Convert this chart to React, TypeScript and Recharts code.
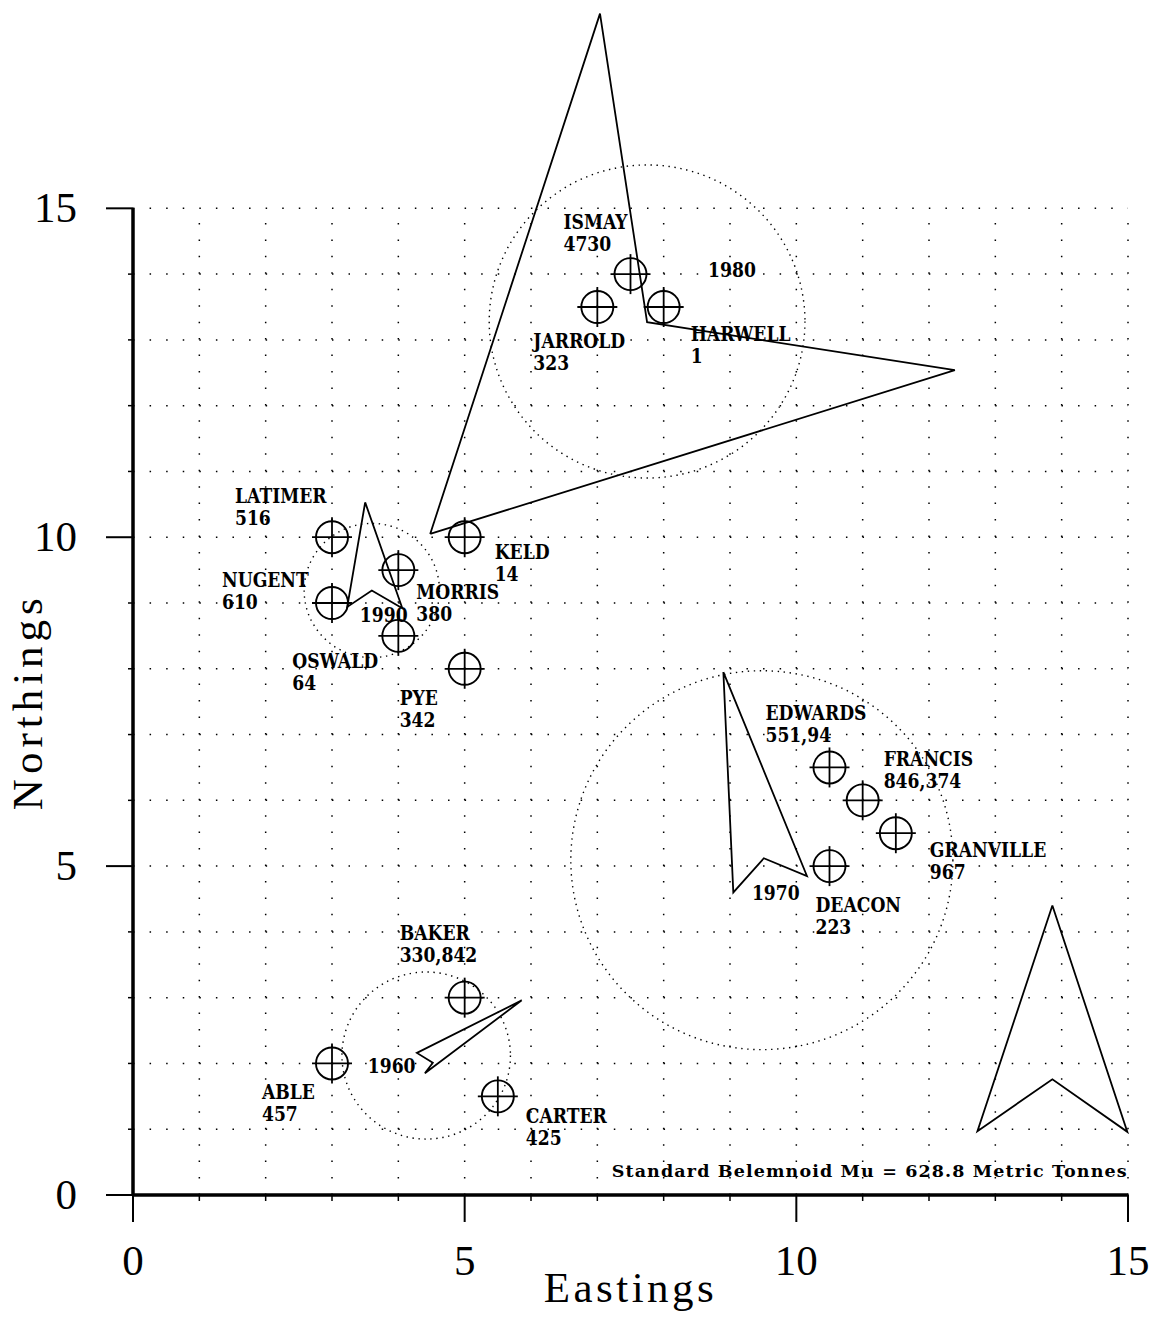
import React from "react";
import { ReferenceArea, ReferenceLine, Scatter, ScatterChart, XAxis, YAxis } from "recharts";

// wells
const wellNames = ["LATIMER", "NUGENT", "MORRIS", "OSWALD", "KELD", "PYE", "ISMAY", "JARROLD", "HARWELL", "EDWARDS", "FRANCIS", "GRANVILLE", "DEACON", "BAKER", "ABLE", "CARTER"];
const wellEastings = [3, 3, 4, 4, 5, 5, 7.5, 7, 8, 10.5, 11, 11.5, 10.5, 5, 3, 5.5];
const wellNorthings = [10, 9, 9.5, 8.5, 10, 8, 14, 13.5, 13.5, 6.5, 6, 5.5, 5, 3, 2, 1.5];
const wellTonnages = ["516", "610", "380", "64", "14", "342", "4730", "323", "1", "551,94", "846,374", "967", "223", "330,842", "457", "425"];

// decade clusters: circle centre (= arrow notch) and radius
const decades = ["1960", "1970", "1980", "1990"];
const circleEastings = [4.42, 9.48, 7.75, 3.6];
const circleNorthings = [2.12, 5.09, 13.28, 9.19];
const circleRadii = [1.27, 2.88, 2.38, 1.02];
const decadeLabelEastings = [3.54, 9.33, 8.67, 3.42];
const decadeLabelNorthings = [1.85, 4.48, 13.95, 8.71];

// arrow outlines: tip, base, notch, base
const arrow1960 = [[5.86, 2.96], [4.28, 2.16], [4.52, 2.01], [4.4, 1.85]];
const arrow1970 = [[8.9, 7.95], [9.05, 4.6], [9.51, 5.12], [10.16, 4.85]];
const arrow1980 = [[4.48, 10.05], [7.04, 17.96], [7.75, 13.27], [12.39, 12.54]];
const arrow1990 = [[3.5, 10.53], [3.23, 8.94], [3.6, 9.19], [4.06, 8.92]];
const northArrow = [[13.86, 4.4], [12.73, 0.97], [13.86, 1.76], [14.99, 0.96]];

const unitTicks = [0, 1, 2, 3, 4, 5, 6, 7, 8, 9, 10, 11, 12, 13, 14, 15];
const gridTicks = [1, 2, 3, 4, 5, 6, 7, 8, 9, 10, 11, 12, 13, 14, 15];

const footnote = "Standard Belemnoid Mu = 628.8 Metric Tonnes";
const footnoteEasting = 14.98;
const footnoteNorthing = 0.27;

// label placement (pixels from the well symbol)
const labelOffsets: { [name: string]: [number, number] } = {
  LATIMER: [-97, -34],
  NUGENT: [-110, -16],
  MORRIS: [18, 29],
  OSWALD: [-106, 32],
  KELD: [30, 22],
  PYE: [-65, 36],
  ISMAY: [-67, -45],
  JARROLD: [-64, 41],
  HARWELL: [27, 34],
  EDWARDS: [-64, -47],
  FRANCIS: [21, -34],
  GRANVILLE: [34, 24],
  DEACON: [-14, 46],
  BAKER: [-65, -58],
  ABLE: [-70, 36],
  CARTER: [28, 27],
};

const wells = wellNames.map((name, i) => ({ x: wellEastings[i], y: wellNorthings[i], name, tonnage: wellTonnages[i] }));
const decadeLabels = decades.map((d, i) => ({ x: decadeLabelEastings[i], y: decadeLabelNorthings[i], text: d }));
const outline = (pts: number[][]) => [...pts, pts[0]].map(([x, y]) => ({ x, y }));
const arrows = [arrow1960, arrow1970, arrow1980, arrow1990, northArrow].map(outline);

const labelFont = { fontFamily: "DejaVu Serif", fontWeight: 700, fontSize: 19.5, fill: "#000" };
const axisFont = { fontFamily: "Liberation Serif", fontSize: 43, fill: "#000" };

// narrow, tall label text like the plotter font
const Label2 = ({ x, y, children }: any) => (
  <text transform={`translate(${x},${y}) scale(0.88,1)`} {...labelFont}>
    {children}
  </text>
);

const XTick = (props: any) => {
  const { x, y, payload } = props;
  const major = payload.value % 5 === 0;
  return (
    <g>
      <line x1={x} x2={x} y1={y} y2={y + (major ? 27 : 6)} stroke="#000" strokeWidth={major ? 2 : 1.5} />
      {major && (
        <text x={x} y={y + 80} textAnchor="middle" {...axisFont}>
          {payload.value}
        </text>
      )}
    </g>
  );
};

const YTick = (props: any) => {
  const { x, y, payload } = props;
  const major = payload.value % 5 === 0;
  return (
    <g>
      <line x1={x - (major ? 27 : 5)} x2={x} y1={y} y2={y} stroke="#000" strokeWidth={major ? 2 : 1.5} />
      {major && (
        <text x={x - 56} y={y + 14} textAnchor="end" {...axisFont}>
          {payload.value}
        </text>
      )}
    </g>
  );
};

const EastingsTitle = ({ viewBox }: any) => (
  <text x={viewBox.x + viewBox.width / 2} y={viewBox.y + 107} textAnchor="middle" letterSpacing={3.5} {...axisFont}>
    Eastings
  </text>
);

const NorthingsTitle = ({ viewBox }: any) => {
  const x = viewBox.x - 91;
  const y = viewBox.y;
  return (
    <text x={x} y={y} textAnchor="middle" letterSpacing={5} transform={`rotate(-90, ${x}, ${y})`} {...axisFont}>
      Northings
    </text>
  );
};

const WellMarker = (props: any) => {
  const { cx, cy, payload } = props;
  const [dx, dy] = labelOffsets[payload.name];
  return (
    <g>
      <circle cx={cx} cy={cy} r={16} fill="none" stroke="#000" strokeWidth={1.9} />
      <line x1={cx - 20} x2={cx + 20} y1={cy} y2={cy} stroke="#000" strokeWidth={1.8} />
      <line x1={cx} x2={cx} y1={cy - 20} y2={cy + 20} stroke="#000" strokeWidth={1.8} />
      <Label2 x={cx + dx} y={cy + dy}>{payload.name}</Label2>
      <Label2 x={cx + dx} y={cy + dy + 22}>{payload.tonnage}</Label2>
    </g>
  );
};

const TextMark = (props: any) => {
  const { cx, cy, payload } = props;
  return <Label2 x={cx} y={cy}>{payload.text}</Label2>;
};

const FootnoteMark = (props: any) => {
  const { cx, cy } = props;
  return (
    <text x={cx} y={cy} textAnchor="end" textLength={515} lengthAdjust="spacing" {...labelFont} fontSize={17.5}>
      {footnote}
    </text>
  );
};

const DottedCircle = (props: any) => {
  const { x, y, width, height } = props;
  return (
    <ellipse
      cx={x + width / 2}
      cy={y + height / 2}
      rx={Math.abs(width) / 2}
      ry={Math.abs(height) / 2}
      fill="none"
      stroke="#000"
      strokeWidth={1.4}
      strokeDasharray="1.4 4.6"
    />
  );
};

const Empty = () => <g />;

export default function App() {
  return (
    <div style={{ position: "absolute", left: 0, top: 0, background: "#fff" }}>
      <ScatterChart width={1157} height={1317} margin={{ top: 11, right: 29, left: 0, bottom: 0 }}>
        <XAxis
          type="number"
          dataKey="x"
          domain={[0, 15]}
          ticks={unitTicks}
          interval={0}
          height={122}
          axisLine={false}
          tickLine={false}
          tickSize={0}
          tickMargin={0}
          tick={<XTick />}
          label={<EastingsTitle />}
        />
        <YAxis
          type="number"
          dataKey="y"
          domain={[0, 18]}
          ticks={unitTicks}
          interval={0}
          width={133}
          axisLine={false}
          tickLine={false}
          tickSize={0}
          tickMargin={0}
          tick={<YTick />}
        />

        {gridTicks.map((k) => (
          <ReferenceLine
            key={`h${k}`}
            segment={[{ x: 0, y: k }, { x: 15, y: k }]}
            stroke="#000"
            strokeWidth={1.5}
            strokeDasharray="1.5 15.08"
          />
        ))}
        {gridTicks.map((k) => (
          <ReferenceLine
            key={`v${k}`}
            segment={[{ x: k, y: 0 }, { x: k, y: 15 }]}
            stroke="#000"
            strokeWidth={1.5}
            strokeDasharray="1.5 14.95"
          />
        ))}
        <ReferenceLine segment={[{ x: 0, y: 0 }, { x: 0, y: 15 }]} stroke="#000" strokeWidth={3.5} />
        <ReferenceLine segment={[{ x: 0, y: 0 }, { x: 15, y: 0 }]} stroke="#000" strokeWidth={3.5} />
        <ReferenceLine y={7.5} stroke="none" label={<NorthingsTitle />} />

        {decades.map((d, i) => (
          <ReferenceArea
            key={d}
            x1={circleEastings[i] - circleRadii[i]}
            x2={circleEastings[i] + circleRadii[i]}
            y1={circleNorthings[i] - circleRadii[i]}
            y2={circleNorthings[i] + circleRadii[i]}
            ifOverflow="visible"
            shape={<DottedCircle />}
          />
        ))}

        {arrows.map((pts, i) => (
          <Scatter
            key={`arrow${i}`}
            data={pts}
            line={{ stroke: "#000", strokeWidth: 1.8 }}
            shape={<Empty />}
            isAnimationActive={false}
          />
        ))}

        <Scatter data={wells} shape={<WellMarker />} isAnimationActive={false} />
        <Scatter data={decadeLabels} shape={<TextMark />} isAnimationActive={false} />
        <Scatter
          data={[{ x: footnoteEasting, y: footnoteNorthing }]}
          shape={<FootnoteMark />}
          isAnimationActive={false}
        />
      </ScatterChart>
    </div>
  );
}
